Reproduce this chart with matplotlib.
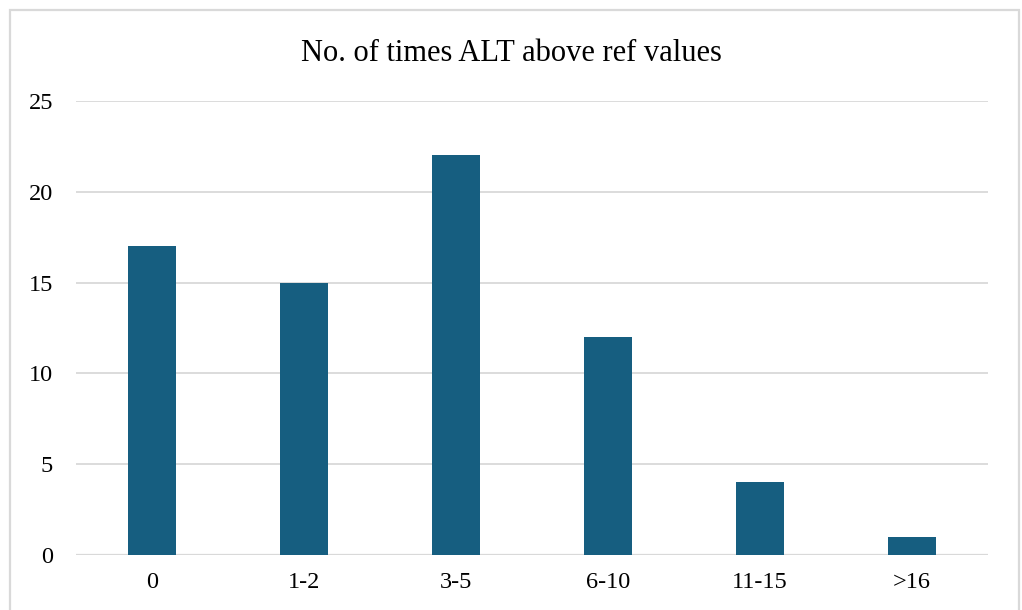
import matplotlib
matplotlib.use("Agg")
import matplotlib.pyplot as plt
from matplotlib.patches import Rectangle

categories = ["0", "1-2", "3-5", "6-10", "11-15", ">16"]
counts = [17, 15, 22, 12, 4, 1]
y_ticks = [0, 5, 10, 15, 20, 25]

plt.rcParams['font.family'] = ['Liberation Serif', 'DejaVu Serif']

fig = plt.figure(figsize=(10.22, 6.10), dpi=100)
ax = fig.add_axes([0.0744, 0.0902, 0.8923, 0.7442])

x = list(range(len(categories)))
ax.bar(x, counts, width=0.31, color="#165E80", zorder=3)
ax.set_xlim(-0.5, len(categories) - 0.5)
ax.set_ylim(0, 25)
ax.set_yticks(y_ticks)
ax.set_xticks(x)
ax.set_xticklabels(categories)
ax.grid(axis='y', color="#d9d9d9", linewidth=1.3, zorder=0)
for s in ax.spines.values():
    s.set_visible(False)
ax.axhline(0, color="#d9d9d9", linewidth=1.6, zorder=2)
ax.tick_params(axis='both', length=0, labelsize=17.5, colors="black")
ax.tick_params(axis='y', pad=16.5)
ax.tick_params(axis='x', pad=12)

fig.text(0.5, 0.913, "No. of times ALT above ref values", ha='center', va='center', fontsize=22)

# chart frame
fig.patches.append(Rectangle((10 / 1022, -0.05), 1009 / 1022, 0.05 + 600 / 610,
                             transform=fig.transFigure, fill=False,
                             edgecolor="#d9d9d9", linewidth=1.6))

fig.savefig("out.png", dpi=100)
